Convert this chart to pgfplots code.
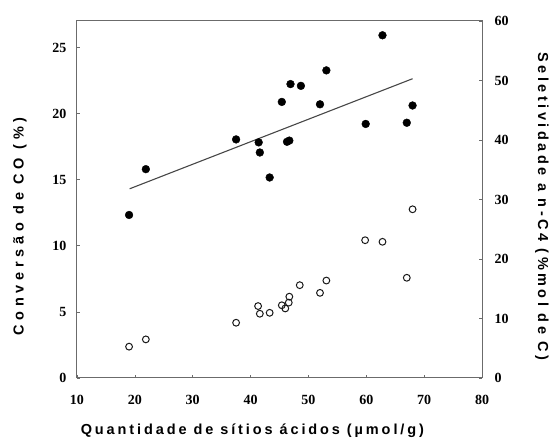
\documentclass[border=0pt]{standalone}
\usepackage{fontspec}
\setmainfont{Liberation Serif}
\newfontfamily\labfontL[LetterSpace=32]{Liberation Sans}
\newfontfamily\labfontR[LetterSpace=24]{Liberation Sans}
\newfontfamily\labfontX[LetterSpace=20]{Liberation Sans}
\newcommand\tickfont{\fontsize{14}{15}\selectfont\bfseries}
\usepackage{pgfplots}
\pgfplotsset{compat=1.18}

\definecolor{axgray}{gray}{0.42}
\definecolor{ink}{gray}{0.1}

\pgfplotsset{
  common/.style={
    scale only axis, width=405pt, height=357pt,
    xmin=10, xmax=80,
    tick align=inside, major tick length=3pt,
    tick style={axgray, line width=0.6pt},
    axis line style={axgray, line width=1pt},
    xticklabel={\tickfont\pgfmathprintnumber[assume math mode=true]{\tick}},
    yticklabel={\tickfont\pgfmathprintnumber[assume math mode=true]{\tick}},
  }
}

\begin{document}
\begin{tikzpicture}
\path (-77pt,-65pt) rectangle (477pt,378pt);

% left axis: conversao de CO
\begin{axis}[common,
  ymin=0, ymax=27,
  xtick={10,20,...,80}, ytick={0,5,...,25},
  xtick pos=bottom, ytick pos=left,
  xticklabel style={yshift=-14pt},
  yticklabel style={xshift=-7pt},
  xlabel={\labfontX\bfseries\fontsize{14.5}{16}\selectfont Quantidade de sítios ácidos (µmol/g)},
  xlabel style={at={(axis description cs:0.433,-0.148)}, anchor=center},
  ylabel={\labfontL\bfseries\fontsize{14.5}{16}\selectfont Conversão de CO (\%)},
  ylabel style={at={(axis description cs:-0.141,0.425)}, anchor=center},
]
\addplot[only marks, mark=o, mark size=3.4pt, mark options={draw=ink, line width=1pt}] coordinates {
(19.0,2.37) (21.9,2.92) (37.5,4.18) (41.3,5.44) (41.6,4.86) (43.3,4.93)
(45.4,5.5) (46.0,5.26) (46.6,5.7) (46.7,6.15) (48.5,7.02) (52.0,6.44)
(53.1,7.37) (59.8,10.42) (62.8,10.3) (67.0,7.58) (68.0,12.76)
};
\end{axis}

% right axis: seletividade a n-C4
\begin{axis}[common,
  ymin=0, ymax=60,
  hide x axis,
  axis y line*=right,
  ytick={0,10,...,60},
  yticklabel style={xshift=9pt},
  ylabel={\labfontR\bfseries\fontsize{14.5}{16}\selectfont Seletividade a n-C4 (\%mol de C)},
  ylabel style={at={(axis description cs:1.148,0.48)}, anchor=center, rotate=180},
]
\addplot[only marks, mark=*, mark size=3.9pt, mark options={fill=black, draw=black}] coordinates {
(19.0,27.4) (21.9,35.1) (37.5,40.1) (41.4,39.6) (41.6,37.9) (43.3,33.7)
(45.4,46.4) (46.3,39.7) (46.7,39.9) (46.9,49.4) (48.7,49.1) (52.0,46.0)
(53.1,51.7) (59.9,42.7) (62.8,57.6) (67.0,42.9) (68.0,45.8)
};
\addplot[ink!80, line width=1.1pt] coordinates {(19.1,31.8) (68.0,50.3)};
\end{axis}
\end{tikzpicture}
\end{document}
